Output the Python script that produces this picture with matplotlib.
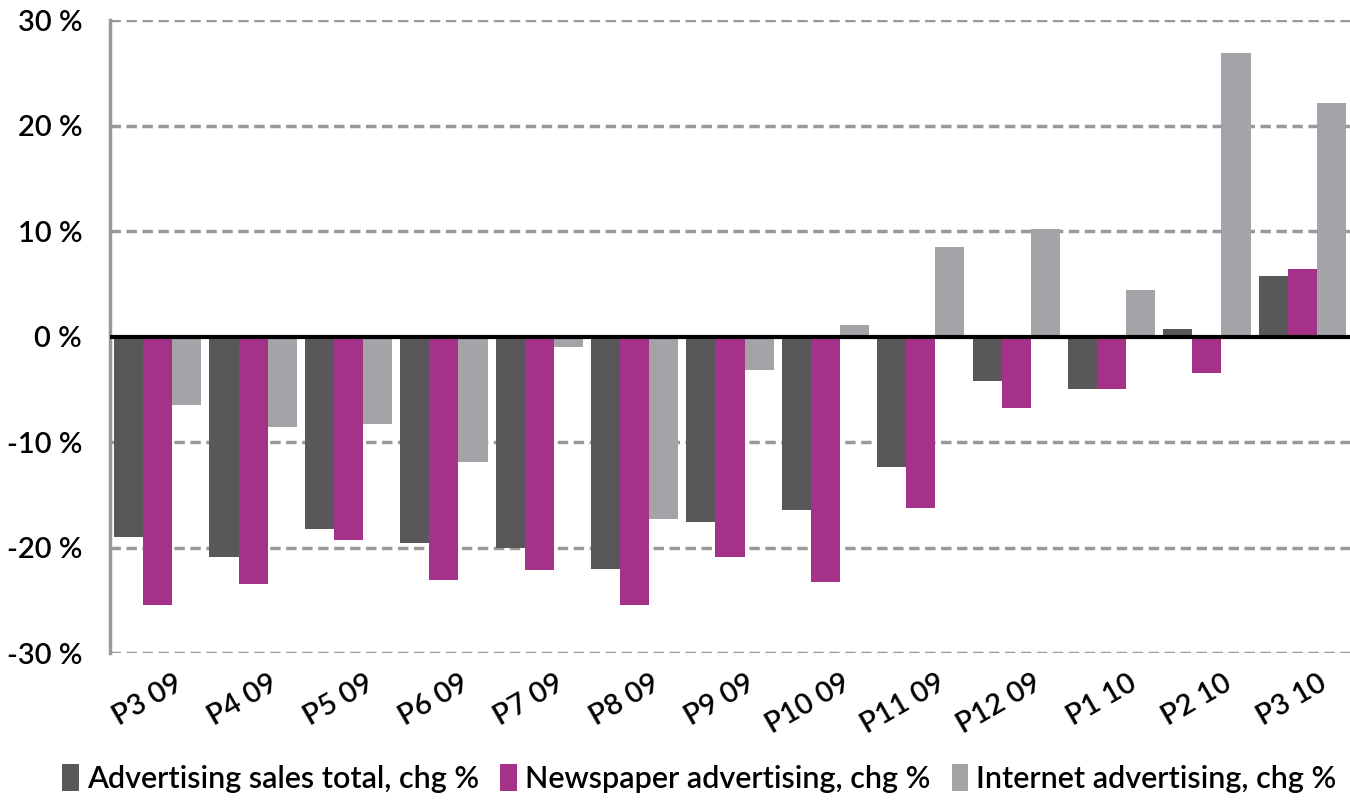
import matplotlib
matplotlib.use("Agg")
import matplotlib.pyplot as plt
import matplotlib.transforms as mtrans
import numpy as np

categories = ["P3 09", "P4 09", "P5 09", "P6 09", "P7 09", "P8 09", "P9 09",
              "P10 09", "P11 09", "P12 09", "P1 10", "P2 10", "P3 10"]
total = [-19.0, -20.9, -18.2, -19.6, -20.0, -22.0, -17.6, -16.4, -12.4, -4.2, -5.0, 0.7, 5.8]
newspaper = [-25.4, -23.5, -19.3, -23.1, -22.1, -25.4, -20.9, -23.3, -16.2, -6.8, -5.0, -3.4, 6.4]
internet = [-6.5, -8.6, -8.3, -11.9, -1.0, -17.3, -3.2, 1.1, 8.5, 10.2, 4.4, 26.9, 22.2]
series_names = ["Advertising sales total, chg %", "Newspaper advertising, chg %",
                "Internet advertising, chg %"]
yticks = [-30, -20, -10, 0, 10, 20, 30]
ytick_labels = ["-30 %", "-20 %", "-10 %", "0 %", "10 %", "20 %", "30 %"]

colors = ["#58585A", "#A53288", "#A3A4A8"]
plt.rcParams['font.family'] = ['Lato', 'DejaVu Sans']

fig = plt.figure(figsize=(13.5, 8.11), dpi=100)
ax = fig.add_axes([0.0815, 0.1948, 0.9185, 0.78])

x = np.arange(len(categories))
w = 0.305
for i, (vals, c, name) in enumerate(zip([total, newspaper, internet], colors, series_names)):
    ax.bar(x + (i - 1) * w, vals, width=w, color=c, label=name, zorder=3)

ax.set_xlim(-0.5, len(categories) - 0.5)
ax.set_ylim(-30, 30)
ax.set_yticks(yticks)
ax.set_yticklabels(ytick_labels, fontsize=21, fontweight='semibold')
ax.set_xticks(x)
ax.set_xticklabels(categories, fontsize=21, fontweight='semibold', rotation=30,
                   ha='right', va='top', rotation_mode='anchor')
ax.tick_params(axis='x', length=0, pad=12)
ax.tick_params(axis='y', length=0, pad=20)
offset = mtrans.ScaledTranslation(0.16, 0, fig.dpi_scale_trans)
for lab in ax.get_xticklabels():
    lab.set_transform(lab.get_transform() + offset)

for yv in yticks:
    if yv != 0:
        ax.axhline(yv, color="#999999", lw=2.5, ls=(0, (3, 1.6)), zorder=1)
ax.axhline(0, color="black", lw=3, zorder=4)

for s in ["top", "right", "bottom"]:
    ax.spines[s].set_visible(False)
ax.spines["left"].set_color("#999999")
ax.spines["left"].set_linewidth(2.5)
ax.spines["left"].set_bounds(-30, 30)

leg = fig.legend(loc="lower center", bbox_to_anchor=(0.518, -0.012), ncol=3, frameon=False,
                 fontsize=22, handlelength=0.55, handleheight=1.0, handletextpad=0.25,
                 columnspacing=0.7)
for t in leg.get_texts():
    t.set_fontweight('semibold')

fig.savefig("out.png", dpi=100)
